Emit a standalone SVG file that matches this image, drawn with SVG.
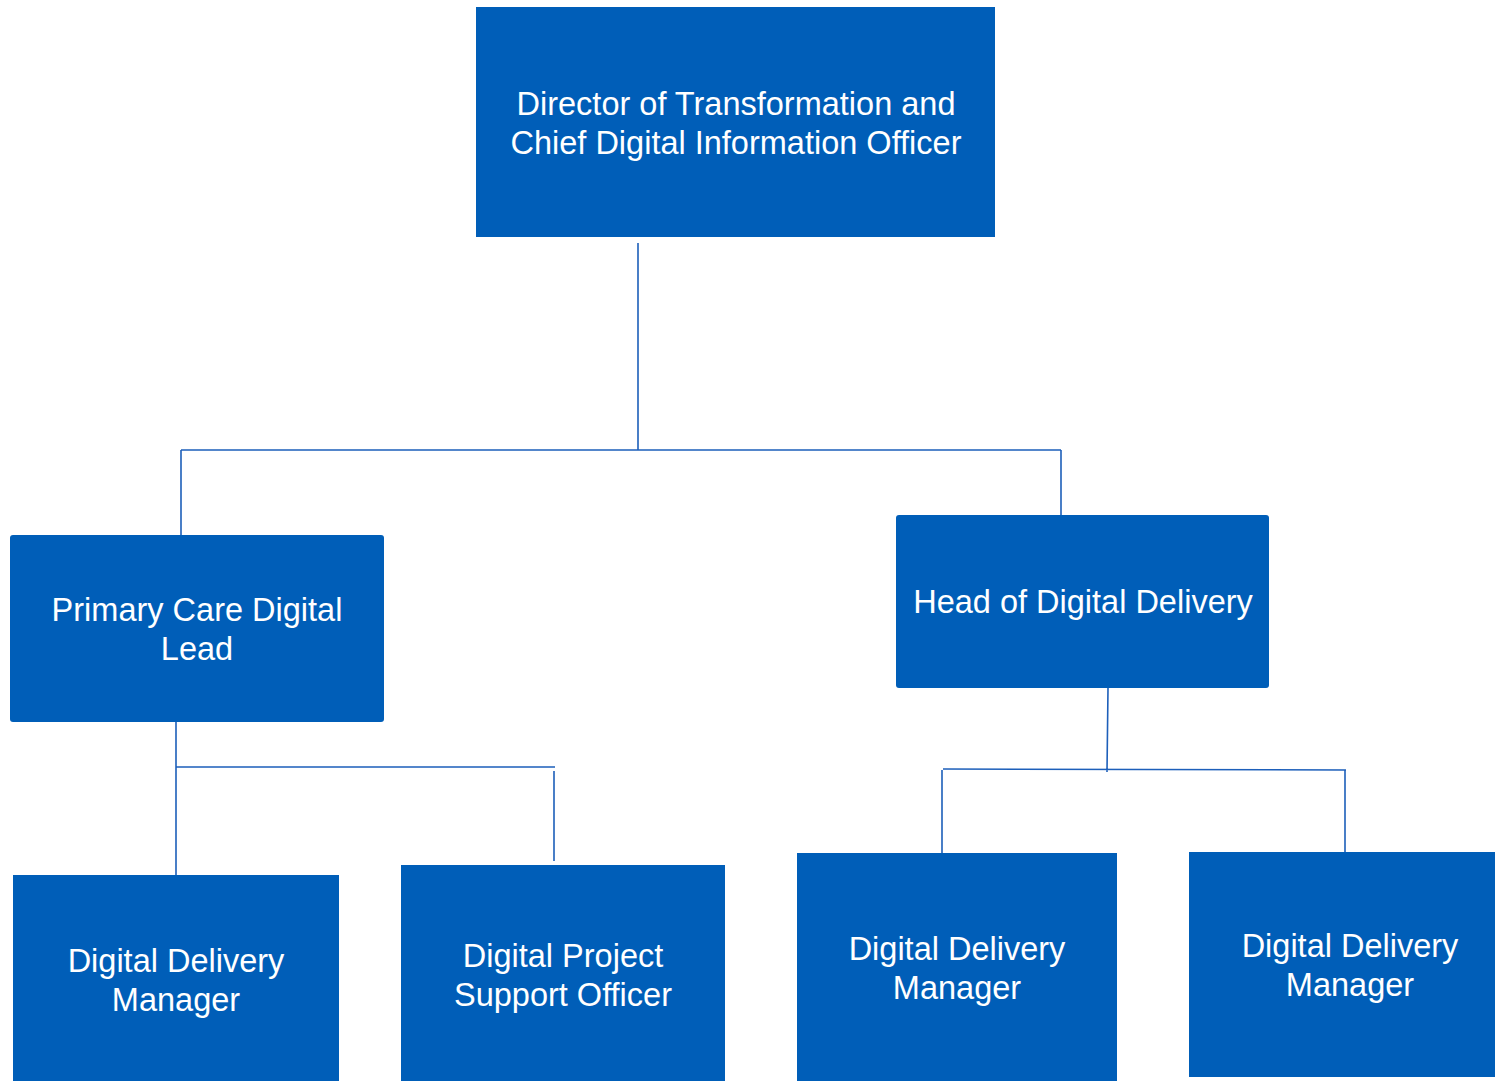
<svg xmlns="http://www.w3.org/2000/svg" width="1495" height="1081" viewBox="0 0 1495 1081">
<style>
.box{fill:#005EB8;}
.t{font-family:"Liberation Sans",Arial,sans-serif;font-size:32.5px;fill:#ffffff;text-anchor:middle;}
.c{stroke:#1D5FBA;stroke-width:1.6;fill:none;}
</style>
<rect width="1495" height="1081" fill="#ffffff"/>
<g id="connectors">
<path class="c" d="M638 243 V450 M181 450 H1061 M181 450 V535 M1061 450 V515"/>
<path class="c" d="M176 722 V875 M176 767 H555 M554 771 V861"/>
<path class="c" d="M1108 688 L1107 772 M943 769 L1346 770 M942 770 V853 M1345 770 V852"/>
</g>
<g id="director">
<rect class="box" x="476" y="7" width="519" height="230"/>
<text class="t" x="736" y="115">Director of Transformation and</text>
<text class="t" x="736" y="154">Chief Digital Information Officer</text>
</g>
<g id="primary-care">
<rect class="box" x="10" y="535" width="374" height="187" rx="3"/>
<text class="t" x="197" y="621">Primary Care Digital</text>
<text class="t" x="197" y="660">Lead</text>
</g>
<g id="head-delivery">
<rect class="box" x="896" y="515" width="373" height="173" rx="3"/>
<text class="t" x="1083" y="613">Head of Digital Delivery</text>
</g>
<g id="ddm-1">
<rect class="box" x="13" y="875" width="326" height="206"/>
<text class="t" x="176" y="972">Digital Delivery</text>
<text class="t" x="176" y="1011">Manager</text>
</g>
<g id="dpso">
<rect class="box" x="401" y="865" width="324" height="216"/>
<text class="t" x="563" y="967">Digital Project</text>
<text class="t" x="563" y="1006">Support Officer</text>
</g>
<g id="ddm-2">
<rect class="box" x="797" y="853" width="320" height="228"/>
<text class="t" x="957" y="960">Digital Delivery</text>
<text class="t" x="957" y="999">Manager</text>
</g>
<g id="ddm-3">
<rect class="box" x="1189" y="852" width="306" height="225"/>
<text class="t" x="1350" y="957">Digital Delivery</text>
<text class="t" x="1350" y="996">Manager</text>
</g>
</svg>
